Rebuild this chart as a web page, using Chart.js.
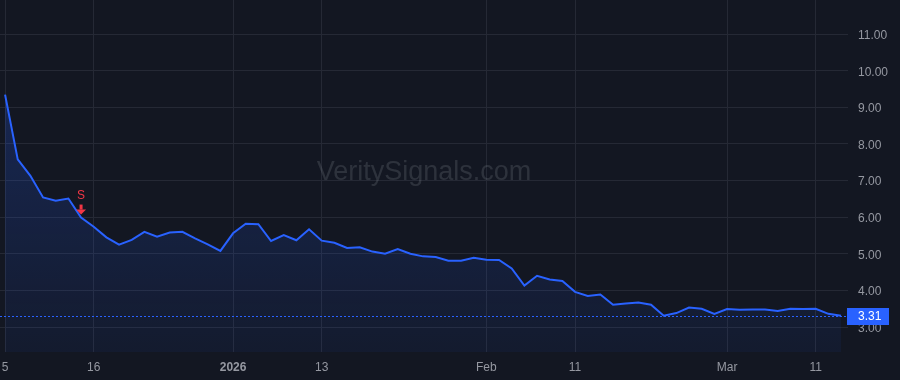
<!DOCTYPE html>
<html>
<head>
<meta charset="utf-8">
<script src="https://cdn.jsdelivr.net/npm/chart.js@4.4.1/dist/chart.umd.min.js"></script>
<style>
  html, body { margin: 0; padding: 0; background: #131722; }
  #wrap { width: 900px; height: 380px; }
</style>
</head>
<body>
<div id="wrap"><canvas id="priceChart" width="900" height="380"></canvas></div>
<script>
// trading days, Dec 5 2025 -> Mar 13 2026
const dates = [
  "2025-12-05","2025-12-08","2025-12-09","2025-12-10","2025-12-11","2025-12-12","2025-12-15","2025-12-16",
  "2025-12-17","2025-12-18","2025-12-19","2025-12-22","2025-12-23","2025-12-24","2025-12-26","2025-12-29",
  "2025-12-30","2025-12-31","2026-01-02","2026-01-05","2026-01-06","2026-01-07","2026-01-08","2026-01-09",
  "2026-01-12","2026-01-13","2026-01-14","2026-01-15","2026-01-16","2026-01-20","2026-01-21","2026-01-22",
  "2026-01-23","2026-01-26","2026-01-27","2026-01-28","2026-01-29","2026-01-30","2026-02-02","2026-02-03",
  "2026-02-04","2026-02-05","2026-02-06","2026-02-09","2026-02-10","2026-02-11","2026-02-12","2026-02-13",
  "2026-02-17","2026-02-18","2026-02-19","2026-02-20","2026-02-23","2026-02-24","2026-02-25","2026-02-26",
  "2026-02-27","2026-03-02","2026-03-03","2026-03-04","2026-03-05","2026-03-06","2026-03-09","2026-03-10",
  "2026-03-11","2026-03-12","2026-03-13"
];

const prices = [
  9.35, 7.58, 7.13, 6.54, 6.45, 6.51, 5.99, 5.74, 5.45, 5.25,
  5.38, 5.60, 5.47, 5.58, 5.60, 5.42, 5.26, 5.08, 5.56, 5.82,
  5.81, 5.35, 5.51, 5.37, 5.67, 5.36, 5.30, 5.16, 5.18, 5.06,
  5.00, 5.13, 5.00, 4.93, 4.91, 4.81, 4.81, 4.89, 4.84, 4.83,
  4.60, 4.13, 4.40, 4.30, 4.26, 3.96, 3.85, 3.89, 3.61, 3.64,
  3.67, 3.61, 3.31, 3.38, 3.53, 3.50, 3.36, 3.49, 3.47, 3.48,
  3.48, 3.44, 3.50, 3.49, 3.50, 3.36, 3.31
];

// x axis labels (index into dates -> text)
const xTickIndex = [0, 7, 18, 25, 38, 45, 57, 64];
const xTickText  = ["5", "16", "2026", "13", "Feb", "11", "Mar", "11"];
const yTicks = [3, 4, 5, 6, 7, 8, 9, 10, 11];

const signalIndex = 6;
const signalText = "S";
const watermark = "VeritySignals.com";

const BLUE = "#2962ff";
const RED = "#f23645";
const TEXT = "#9598a1";
const GRID = "#252935";
const FONT = "'Liberation Sans', Arial, sans-serif";

const lastPrice = prices[prices.length - 1];

const watermarkPlugin = {
  id: "watermark",
  beforeDatasetsDraw(chart) {
    const { ctx, chartArea } = chart;
    ctx.save();
    ctx.font = "27px " + FONT;
    ctx.fillStyle = "rgba(178,181,190,0.17)";
    ctx.textAlign = "center";
    ctx.textBaseline = "alphabetic";
    ctx.fillText(watermark, (chartArea.left + chartArea.right) / 2, 180);
    ctx.restore();
  }
};

const markersPlugin = {
  id: "markers",
  afterDatasetsDraw(chart) {
    const { ctx, chartArea, scales } = chart;
    const y = scales.y.getPixelForValue(lastPrice);
    // dotted last price line
    ctx.save();
    ctx.strokeStyle = BLUE;
    ctx.lineWidth = 1;
    ctx.setLineDash([2, 2]);
    ctx.beginPath();
    ctx.moveTo(chartArea.left, Math.round(y) + 0.5);
    ctx.lineTo(chartArea.right, Math.round(y) + 0.5);
    ctx.stroke();
    ctx.restore();

    // sell signal
    const px = scales.x.getPixelForValue(signalIndex);
    const py = scales.y.getPixelForValue(prices[signalIndex]);
    ctx.save();
    ctx.fillStyle = RED;
    ctx.font = "12px " + FONT;
    ctx.textAlign = "center";
    ctx.textBaseline = "middle";
    ctx.fillText(signalText, px, py - 22);
    ctx.fillRect(px - 1.5, py - 13, 3, 5);
    ctx.beginPath();
    ctx.moveTo(px - 5, py - 8);
    ctx.lineTo(px + 5, py - 8);
    ctx.lineTo(px, py - 3);
    ctx.closePath();
    ctx.fill();
    ctx.restore();
  },
  afterDraw(chart) {
    const { ctx, chartArea, scales } = chart;
    const y = Math.round(scales.y.getPixelForValue(lastPrice));
    ctx.save();
    ctx.fillStyle = BLUE;
    ctx.fillRect(chartArea.right - 1, y - 8, 42, 17);
    ctx.fillStyle = "#ffffff";
    ctx.font = "12px " + FONT;
    ctx.textAlign = "left";
    ctx.textBaseline = "middle";
    ctx.fillText(lastPrice.toFixed(2), chartArea.right + 10, y + 1);
    ctx.restore();
  }
};

new Chart(document.getElementById("priceChart"), {
  type: "line",
  data: {
    labels: dates,
    datasets: [{
      data: prices.map((v, i) => ({ x: i, y: v })),
      borderColor: BLUE,
      borderWidth: 2,
      pointRadius: 0,
      tension: 0,
      fill: "start",
      backgroundColor: (c) => {
        const area = c.chart.chartArea;
        if (!area) return "rgba(41,98,255,0.1)";
        const g = c.chart.ctx.createLinearGradient(0, 90, 0, area.bottom);
        g.addColorStop(0, "rgba(41,98,255,0.22)");
        g.addColorStop(1, "rgba(41,98,255,0.06)");
        return g;
      }
    }]
  },
  options: {
    responsive: false,
    devicePixelRatio: 1,
    animation: false,
    layout: { padding: 0 },
    plugins: { legend: { display: false }, tooltip: { enabled: false } },
    scales: {
      x: {
        type: "linear",
        min: -0.4,
        max: 66.55,
        afterBuildTicks: (s) => { s.ticks = xTickIndex.map(v => ({ value: v })); },
        afterFit: (s) => { s.height = 28; s.paddingLeft = 0; s.paddingRight = 0; },
        grid: { color: GRID, drawTicks: false },
        border: { display: false },
        ticks: {
          padding: 8,
          maxRotation: 0,
          autoSkip: false,
          color: TEXT,
          font: (c) => ({ family: FONT, size: 12, weight: c.tick && c.tick.value === 18 ? "bold" : "normal" }),
          callback: (v) => xTickText[xTickIndex.indexOf(v)]
        }
      },
      y: {
        position: "right",
        min: 2.317,
        max: 11.934,
        afterBuildTicks: (s) => { s.ticks = yTicks.map(v => ({ value: v })); },
        afterFit: (s) => { s.width = 52; s.paddingTop = 0; s.paddingBottom = 0; },
        grid: { color: GRID, drawTicks: false },
        border: { display: false },
        ticks: {
          padding: 10,
          crossAlign: "near",
          labelOffset: 1.5,
          color: TEXT,
          font: { family: FONT, size: 12 },
          callback: (v) => Number(v).toFixed(2)
        }
      }
    }
  },
  plugins: [watermarkPlugin, markersPlugin]
});
</script>
</body>
</html>
